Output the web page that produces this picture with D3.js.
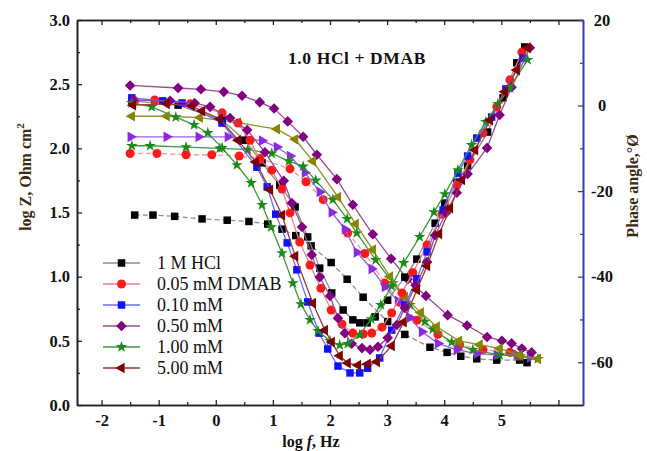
<!DOCTYPE html>
<html>
<head>
<meta charset="utf-8">
<script src="https://cdn.jsdelivr.net/npm/d3@7"></script>
<style>
  body { margin: 0; background: #fff; }
  svg text { font-family: "Liberation Serif", "Times New Roman", serif; }
</style>
</head>
<body>
<div id="chart"></div>
<script>
// ---- data (x = log f, Hz) ----
// 1 M HCl
var hclZf = [-1.42,-1.10,-0.72,-0.24,0.20,0.58,0.91,1.16,1.40,1.67,2.02,2.30,2.58,3.01,3.31,3.75,4.05,4.29,4.57,4.92,5.32,5.45];
var hclZ  = [1.48,1.48,1.47,1.45,1.44,1.43,1.41,1.37,1.32,1.24,1.11,0.98,0.84,0.65,0.55,0.45,0.41,0.38,0.36,0.35,0.35,0.33];
var hclPf = [-1.47,-0.66,0.11,0.51,0.81,1.12,1.39,1.61,1.82,2.03,2.23,2.40,2.52,2.65,2.79,3.01,3.31,3.52,3.84,4.01,4.22,4.41,4.76,5.03,5.27,5.41];
var hclP  = [1.1,0.1,-3.4,-8.1,-13.4,-18.6,-23.7,-30.7,-38.0,-43.8,-47.8,-50.1,-50.8,-50.8,-49.4,-45.5,-40.1,-35.9,-27.5,-22.8,-17.9,-14.1,-6.2,1.8,10.0,13.7];
// 0.05 mM DMAB
var redZf = [-1.50,-1.03,-0.52,-0.07,0.41,0.77,1.30,1.58,1.88,2.31,2.61,2.96,3.22,3.52,3.89,4.27,4.68,5.15,5.32];
var redZ  = [1.96,1.96,1.95,1.95,1.94,1.92,1.84,1.74,1.60,1.34,1.18,0.95,0.80,0.66,0.55,0.47,0.43,0.41,0.38];
var redPf = [-1.42,-1.07,-0.45,0.11,0.39,0.60,0.77,0.98,1.16,1.30,1.47,1.65,1.84,2.02,2.21,2.40,2.58,2.73,2.91,3.08,3.26,3.45,3.70,3.96,4.22,4.45,4.68,4.92,5.15,5.36];
var redP  = [1.1,1.3,0.4,-1.7,-4.1,-8.1,-12.7,-15.1,-19.5,-25.1,-31.9,-37.3,-42.7,-47.8,-51.1,-53.2,-53.4,-53.2,-51.8,-48.5,-43.8,-39.1,-32.6,-25.4,-18.6,-12.7,-6.4,-0.3,6.0,12.5];
// 0.10 mM
var blueZf = [-1.49,-0.86,-0.30,0.21,0.56,0.81,1.07,1.30,1.56,1.82,2.03,2.26,2.47,2.73,2.96,3.19,3.40,3.61,3.89,4.22,4.57,4.92,5.27,5.50];
var blueZ  = [2.09,2.09,2.09,2.09,2.07,2.06,2.01,1.94,1.81,1.66,1.50,1.37,1.19,1.06,0.92,0.81,0.68,0.57,0.48,0.43,0.40,0.39,0.39,0.37];
var bluePf = [-1.47,-0.93,-0.59,0.11,0.72,0.90,1.05,1.25,1.42,1.61,1.81,1.96,2.14,2.35,2.52,2.66,2.87,3.08,3.31,3.52,3.70,3.98,4.24,4.41,4.57,4.83,5.08,5.38];
var blueP  = [1.8,1.1,0.6,-4.1,-14.4,-19.0,-25.4,-32.1,-38.4,-45.9,-53.2,-56.9,-60.9,-62.5,-62.5,-61.4,-59.0,-52.5,-46.6,-40.5,-34.2,-24.4,-15.8,-11.8,-7.6,-2.7,3.9,11.1];
// 0.50 mM
var purZf = [-1.50,-0.66,-0.26,0.14,0.46,0.77,1.02,1.26,1.53,1.77,2.12,2.40,2.75,3.07,3.36,3.68,4.06,4.40,4.75,5.01,5.18,5.36,5.53];
var purZ  = [2.49,2.47,2.46,2.44,2.41,2.36,2.31,2.21,2.09,1.95,1.76,1.56,1.33,1.14,0.98,0.85,0.70,0.62,0.53,0.50,0.48,0.44,0.41];
var purPf = [-1.45,-0.80,-0.37,-0.10,0.25,0.55,0.86,1.19,1.33,1.51,1.68,1.82,2.00,2.14,2.26,2.38,2.56,2.70,2.84,3.01,3.17,3.31,3.50,3.70,3.84,4.03,4.22,4.41,4.75,4.97,5.18,5.50];
var purP  = [1.3,1.1,0.6,-0.3,-2.9,-5.7,-10.9,-17.6,-22.8,-28.4,-34.9,-40.1,-44.5,-49.7,-53.2,-55.7,-56.7,-57.1,-56.4,-54.3,-51.3,-47.3,-42.0,-36.6,-30.3,-25.1,-20.4,-16.0,-9.9,-2.2,4.3,13.5];
// 1.00 mM
var grnZf = [-1.47,-1.15,-0.52,0.07,0.56,0.98,1.28,1.53,1.75,2.05,2.30,2.47,2.80,3.10,3.40,3.66,3.80,4.13,4.50,4.97,5.32,5.64];
var grnZ  = [2.02,2.02,2.01,2.00,1.99,1.96,1.90,1.86,1.75,1.60,1.45,1.34,1.13,0.95,0.78,0.65,0.59,0.49,0.43,0.39,0.38,0.36];
var grnPf = [-1.47,-1.12,-0.70,-0.38,-0.14,0.11,0.37,0.62,0.81,0.97,1.16,1.35,1.49,1.65,1.79,2.00,2.17,2.31,2.52,2.72,2.89,3.08,3.29,3.57,3.82,4.01,4.24,4.48,4.73,4.94,5.15,5.46];
var grnP  = [0.6,-0.3,-2.7,-4.5,-6.4,-9.9,-13.9,-18.1,-23.2,-28.4,-34.5,-41.5,-46.4,-50.1,-52.7,-55.0,-56.0,-55.7,-53.6,-49.9,-46.6,-42.2,-36.8,-30.7,-24.9,-20.7,-15.1,-9.2,-3.8,0.4,4.1,10.7];
// 5.00 mM
var fiveZf = [-1.47,-0.86,-0.28,0.39,1.07,1.39,1.70,2.14,2.45,2.75,3.05,3.31,3.59,3.87,4.26,4.62,4.97,5.32,5.64];
var fiveZ  = [2.25,2.25,2.24,2.20,2.15,2.07,1.90,1.62,1.41,1.21,1.00,0.84,0.72,0.61,0.50,0.47,0.44,0.39,0.36];
var fivePf = [-1.45,-0.86,-0.42,-0.24,0.07,0.39,0.70,0.95,1.16,1.39,1.70,1.91,2.03,2.17,2.31,2.49,2.66,2.82,3.08,3.29,3.52,3.70,3.91,4.10,4.31,4.54,4.80,5.06,5.27,5.46];
var fiveP  = [0.1,0.4,-0.1,-1.3,-3.1,-8.1,-13.2,-19.7,-25.6,-35.2,-46.2,-52.5,-55.3,-58.5,-60.2,-60.7,-60.4,-59.9,-56.2,-50.6,-43.1,-37.5,-30.0,-24.0,-17.4,-10.4,-3.4,3.2,8.3,13.5];

var legendNames = ["1 M HCl", "0.05 mM DMAB", "0.10 mM", "0.50 mM", "1.00 mM", "5.00 mM"];
var xTicks = [-2, -1, 0, 1, 2, 3, 4, 5, 6];
var yLeftTicks = [0, 0.5, 1.0, 1.5, 2.0, 2.5, 3.0];
var yRightTicks = [20, 0, -20, -40, -60];

var svgWidth = 647, svgHeight = 451;
var margin = {top: 20, right: 64, bottom: 46, left: 77};
var width = svgWidth - margin.left - margin.right;
var height = svgHeight - margin.top - margin.bottom;

var svg = d3.select("#chart").append("svg")
  .attr("width", svgWidth)
  .attr("height", svgHeight);

var chartGroup = svg.append("g")
  .attr("transform", `translate(${margin.left}, ${margin.top})`);

var xScale = d3.scaleLinear().domain([-2.43, 6.43]).range([0, width]);
var yLeft = d3.scaleLinear().domain([0, 3]).range([height, 0]);
var yRight = d3.scaleLinear().domain([-70, 20]).range([height, 0]);

// symbol helpers
function markerPath(shape) {
  var s = d3.symbol();
  if (shape == "square") return s.type(d3.symbolSquare).size(56)();
  if (shape == "circle") return s.type(d3.symbolCircle).size(64)();
  if (shape == "diamond") return s.type(d3.symbolSquare).size(56)();
  if (shape == "star") return s.type(d3.symbolStar).size(42)();
  return s.type(d3.symbolTriangle).size(50)();
}
function markerRot(shape) {
  if (shape == "diamond") return 45;
  if (shape == "triLeft") return -90;
  if (shape == "triRight") return 90;
  return 0;
}

// series (log Z on left axis, phase on right axis)
var series = [
  {xs: hclZf, ys: hclZ, axis: "L", shape: "square", fill: "#000", line: "#8c8c8c", dash: "5,3"},
  {xs: redZf, ys: redZ, axis: "L", shape: "circle", fill: "#ff1a1a", line: "#f39a9a", dash: "5,3"},
  {xs: blueZf, ys: blueZ, axis: "L", shape: "triRight", fill: "#8a2be2", line: "#9c5ced"},
  {xs: purZf, ys: purZ, axis: "L", shape: "diamond", fill: "#800080", line: "#9a4a9a"},
  {xs: grnZf, ys: grnZ, axis: "L", shape: "star", fill: "#1a8a1a", line: "#3d9a3d"},
  {xs: fiveZf, ys: fiveZ, axis: "L", shape: "triLeft", fill: "#858500", line: "#8f8f2a"},
  {xs: hclPf, ys: hclP, axis: "R", shape: "square", fill: "#000", line: "#8c8c8c"},
  {xs: redPf, ys: redP, axis: "R", shape: "circle", fill: "#ff1a1a", line: "#f08080"},
  {xs: bluePf, ys: blueP, axis: "R", shape: "square", fill: "#1010ff", line: "#6a6aff"},
  {xs: purPf, ys: purP, axis: "R", shape: "diamond", fill: "#800080", line: "#9a4a9a"},
  {xs: grnPf, ys: grnP, axis: "R", shape: "star", fill: "#1a8a1a", line: "#3d9a3d"},
  {xs: fivePf, ys: fiveP, axis: "R", shape: "triLeft", fill: "#800000", line: "#9a3a3a"}
];

series.forEach(function(s) {
  var yS = s.axis == "L" ? yLeft : yRight;
  var pts = s.xs.map(function(v, i) { return [v, s.ys[i]]; });
  var line = d3.line().x(d => xScale(d[0])).y(d => yS(d[1]));
  chartGroup.append("path")
    .datum(pts)
    .attr("d", line)
    .attr("fill", "none")
    .attr("stroke", s.line)
    .attr("stroke-dasharray", s.dash || null)
    .attr("stroke-width", 1.3);
  chartGroup.selectAll(null)
    .data(pts)
    .enter()
    .append("path")
    .attr("d", markerPath(s.shape))
    .attr("transform", d => `translate(${xScale(d[0])},${yS(d[1])}) rotate(${markerRot(s.shape)})`)
    .attr("fill", s.fill);
});

// ---- axes ----
function styleAxis(g, color) {
  g.select(".domain").attr("stroke", color).attr("stroke-width", 1.6);
  g.selectAll(".tick line").attr("stroke", color).attr("stroke-width", 1.3);
  g.selectAll(".tick text")
    .attr("fill", "#111")
    .attr("font-size", 16.5)
    .attr("font-weight", "bold")
    .attr("font-family", "'Liberation Serif', serif");
}

var bottomAxis = d3.axisBottom(xScale).tickValues(xTicks)
  .tickFormat(d => d > 5 ? "" : d3.format("d")(d).replace("−", "-"))
  .tickSizeInner(-5).tickSizeOuter(0).tickPadding(9);
var gB = chartGroup.append("g").attr("transform", `translate(0, ${height})`).call(bottomAxis);
styleAxis(gB, "#222");

var minorX = d3.range(-1.5, 6.01, 1);
chartGroup.append("g").attr("transform", `translate(0, ${height})`)
  .call(d3.axisBottom(xScale).tickValues(minorX).tickFormat("").tickSizeInner(-3).tickSizeOuter(0))
  .call(g => styleAxis(g, "#222"));

var gT = chartGroup.append("g")
  .call(d3.axisTop(xScale).tickValues(xTicks).tickFormat("").tickSizeInner(-5).tickSizeOuter(0));
styleAxis(gT, "#222");
chartGroup.append("g")
  .call(d3.axisTop(xScale).tickValues(minorX).tickFormat("").tickSizeInner(-3).tickSizeOuter(0))
  .call(g => styleAxis(g, "#222"));

var gL = chartGroup.append("g")
  .call(d3.axisLeft(yLeft).tickValues(yLeftTicks).tickFormat(d3.format(".1f"))
    .tickSizeInner(-5).tickSizeOuter(0).tickPadding(7));
styleAxis(gL, "#222");
chartGroup.append("g")
  .call(d3.axisLeft(yLeft).tickValues(d3.range(0.25, 3, 0.5)).tickFormat("").tickSizeInner(-3).tickSizeOuter(0))
  .call(g => styleAxis(g, "#222"));

var gR = chartGroup.append("g").attr("transform", `translate(${width}, 0)`)
  .call(d3.axisRight(yRight).tickValues(yRightTicks).tickFormat(d => String(d))
    .tickSizeInner(-5).tickSizeOuter(0).tickPadding(19));
styleAxis(gR, "#3a3ab4");
gR.selectAll(".tick text").attr("text-anchor", "middle");
chartGroup.append("g").attr("transform", `translate(${width}, 0)`)
  .call(d3.axisRight(yRight).tickValues([10, -10, -30, -50]).tickFormat("").tickSizeInner(-3).tickSizeOuter(0))
  .call(g => styleAxis(g, "#3a3ab4"));

// ---- labels ----
var leftTitle = svg.append("text")
  .attr("transform", "translate(31, 177) rotate(-90)")
  .attr("text-anchor", "middle")
  .attr("font-size", 16)
  .attr("font-weight", "bold")
  .attr("fill", "#3a2a10");
leftTitle.append("tspan").text("log Z, Ohm cm");
leftTitle.append("tspan").attr("font-size", 11).attr("dy", -7).text("2");

svg.append("text")
  .attr("transform", "translate(638, 186) rotate(-90)")
  .attr("text-anchor", "middle")
  .attr("font-size", 16)
  .attr("font-weight", "bold")
  .attr("fill", "#3a2a10")
  .text("Phase angle,°Ø");

var xTitle = svg.append("text")
  .attr("x", 311).attr("y", 447)
  .attr("text-anchor", "middle")
  .attr("font-size", 16)
  .attr("font-weight", "bold")
  .attr("fill", "#111");
xTitle.append("tspan").text("log ");
xTitle.append("tspan").attr("font-style", "italic").text("f");
xTitle.append("tspan").text(", Hz");

svg.append("text")
  .attr("x", 357).attr("y", 64)
  .attr("text-anchor", "middle")
  .attr("font-size", 17.5)
  .attr("font-weight", "bold")
  .attr("letter-spacing", 0.6)
  .attr("fill", "#111")
  .text("1.0 HCl + DMAB");

// ---- legend ----
var legendItems = [
  {shape: "square", fill: "#000", line: "#8c8c8c"},
  {shape: "circle", fill: "#ff1a1a", line: "#f08080"},
  {shape: "square", fill: "#1010ff", line: "#6a6aff"},
  {shape: "diamond", fill: "#800080", line: "#9a4a9a"},
  {shape: "star", fill: "#1a8a1a", line: "#3d9a3d"},
  {shape: "triLeft", fill: "#800000", line: "#9a3a3a"}
];
var legend = svg.append("g");
legendItems.forEach(function(it, i) {
  var y = 263 + i * 21;
  legend.append("line")
    .attr("x1", 103).attr("x2", 140).attr("y1", y).attr("y2", y)
    .attr("stroke", it.line).attr("stroke-width", 1.3);
  legend.append("path")
    .attr("d", markerPath(it.shape))
    .attr("transform", `translate(121.5,${y}) rotate(${markerRot(it.shape)})`)
    .attr("fill", it.fill);
  legend.append("text")
    .attr("x", 157).attr("y", y).attr("dy", "0.35em")
    .attr("font-size", 18)
    .attr("fill", "#111")
    .text(legendNames[i]);
});
</script>
</body>
</html>
